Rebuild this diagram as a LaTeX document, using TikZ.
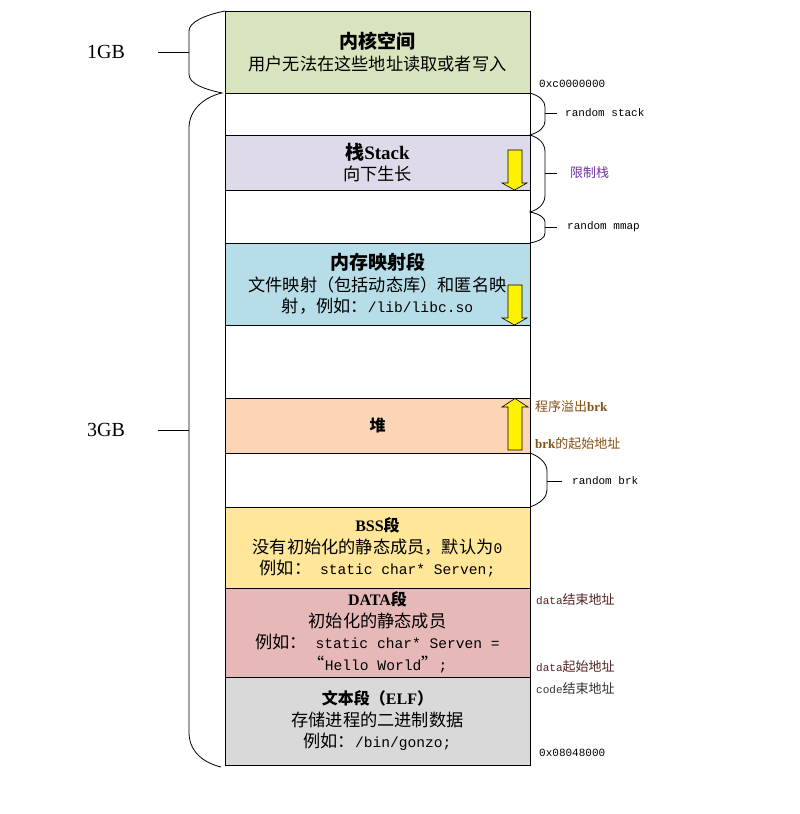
\documentclass[tikz,border=0pt]{standalone}
\usepackage{fontspec}
\setmainfont{Noto Sans CJK SC}
\newfontfamily\mono{Liberation Mono}
\newfontfamily\tms{Liberation Serif}

\definecolor{kerncol}{RGB}{215,228,189}
\definecolor{stackcol}{RGB}{223,218,233}
\definecolor{mmapcol}{RGB}{183,222,232}
\definecolor{heapcol}{RGB}{251,213,181}
\definecolor{bsscol}{RGB}{255,230,153}
\definecolor{datacol}{RGB}{230,185,184}
\definecolor{textcol}{RGB}{217,217,217}
\definecolor{limitcol}{RGB}{112,48,160}
\definecolor{brkcol}{RGB}{132,80,20}
\definecolor{datalbl}{RGB}{85,35,35}
\definecolor{codelbl}{RGB}{50,50,50}

% title and monospace helpers
\newcommand\segtitle[1]{{\bfseries\fontsize{19}{21.5}\selectfont #1}}
\newcommand\segsub[1]{{\bfseries\fontsize{16}{21.5}\selectfont #1}}
\newcommand\mt[1]{{\mono\fontsize{14.6}{21.5}\selectfont #1}}
\newcommand\lt[1]{{\tms\bfseries #1}}
\newcommand\sm[1]{{\mono\fontsize{11}{13}\selectfont #1}}

\begin{document}
\begin{tikzpicture}[x=1pt,y=-1pt,
  seg/.style={draw=black, line width=0.9pt, minimum width=305, inner sep=0pt,
    outer sep=0pt, align=center, anchor=north,
    font=\fontsize{17.2}{21.5}\selectfont},
  brace/.style={draw=black, line width=0.8pt},
  growarrow/.style={draw=black, line width=0.6pt, fill=yellow},
  side/.style={anchor=west, inner sep=0pt},
  gb/.style={inner sep=0pt, font=\tms\fontsize{20}{24}\selectfont},
  sidecjk/.style={side, font=\fontsize{13}{15}\selectfont}
]
\useasboundingbox (0,0) rectangle (800,814);

% memory segments, stacked from the top down
\node[seg, fill=kerncol, minimum height=82] (kern) at (377.5,11)
  {\segtitle{内核空间}\\用户无法在这些地址读取或者写入};
\node[seg, minimum height=42] (gapstack) at (kern.south) {};
\node[seg, fill=stackcol, minimum height=55] (stack) at (gapstack.south)
  {\segtitle{栈\lt{Stack}}\\向下生长};
\node[seg, minimum height=53] (gapmmap) at (stack.south) {};
\node[seg, fill=mmapcol, minimum height=82] (mmap) at (gapmmap.south)
  {\segtitle{内存映射段}\\文件映射（包括动态库）和匿名映\\射，例如：\mt{/lib/libc.so}};
\node[seg, minimum height=73] (free) at (mmap.south) {};
\node[seg, fill=heapcol, minimum height=55] (heap) at (free.south)
  {\segsub{堆}};
\node[seg, minimum height=54] (gapbrk) at (heap.south) {};
\node[seg, fill=bsscol, minimum height=81] (bss) at (gapbrk.south)
  {\segsub{\lt{BSS}段}\\没有初始化的静态成员，默认为\mt{0}\\例如：\mt{ static char* Serven;}};
\node[seg, fill=datacol, minimum height=89] (data) at (bss.south)
  {\segsub{\lt{DATA}段}\\初始化的静态成员\\例如：\mt{ static char* Serven =}\\“\mt{Hello World}”\mt{;}};
\node[seg, fill=textcol, minimum height=88] (text) at (data.south)
  {\segsub{文本段（\lt{ELF}）}\\存储进程的二进制数据\\例如：\mt{/bin/gonzo;}};

% growth arrows
\draw[growarrow] (508,150) -- (522,150) -- (522,183) -- (527,183) -- (514.5,190)
  -- (502,183) -- (508,183) -- cycle;
\draw[growarrow] (508,285) -- (522,285) -- (522,318) -- (527,318) -- (514.5,325)
  -- (502,318) -- (508,318) -- cycle;
\draw[growarrow] (508,450) -- (522,450) -- (522,407) -- (528,407) -- (515,398.5)
  -- (502,407) -- (508,407) -- cycle;

% left braces: 1GB kernel, 3GB user
\draw[brace] (225,11) .. controls (205,15) and (189,22) .. (189,31) -- (189,74)
  .. controls (189,84) and (204,89) .. (222,93)
  .. controls (204,97) and (189,110) .. (189,128) -- (189,732)
  .. controls (189,750) and (201,762) .. (221,767);
\coordinate (gbtop) at (189,52);
\coordinate (gbbot) at (189,430);
\node[gb] (onegb) at (106,52) {1GB};
\node[gb] (threegb) at (106,430) {3GB};
\draw[brace] (158,52) -- (gbtop);
\draw[brace] (158,430) -- (gbbot);

% right braces
\draw[brace] (530,93) .. controls (540,96) and (545,101) .. (545,107) -- (545,121)
  .. controls (545,127) and (540,132) .. (530,135)
  .. controls (540,138) and (545,144) .. (545,152) -- (545,195)
  .. controls (545,203) and (540,209) .. (530,212)
  .. controls (540,214) and (545,218) .. (545,222) -- (545,233)
  .. controls (545,238) and (540,241) .. (530,243);
\draw[brace] (545,113) -- (557,113);
\draw[brace] (545,173) -- (557,173);
\draw[brace] (545,227) -- (557,227);
\draw[brace] (530,453) .. controls (541,457) and (547,464) .. (547,471) -- (547,490)
  .. controls (547,497) and (541,503) .. (530,507);
\draw[brace] (547,481) -- (562,481);

% side labels
\node[side] (addrtop) at (539,84) {\sm{0xc0000000}};
\node[side] (rstack) at (565,113) {\sm{random stack}};
\node[sidecjk, text=limitcol] (limit) at (570,173) {限制栈};
\node[side] (rmmap) at (567,227) {\sm{random mmap}};
\node[sidecjk, text=brkcol] (brkover) at (535,407) {程序溢出\lt{brk}};
\node[sidecjk, text=brkcol] (brkstart) at (535,444) {\lt{brk}的起始地址};
\node[side] (rbrk) at (572,481) {\sm{random brk}};
\node[sidecjk, text=datalbl] (dataend) at (536,600) {\sm{data}结束地址};
\node[sidecjk, text=datalbl] (databeg) at (536,667) {\sm{data}起始地址};
\node[sidecjk, text=codelbl] (codeend) at (536,689) {\sm{code}结束地址};
\node[side] (addrbot) at (539,753) {\sm{0x08048000}};
\end{tikzpicture}
\end{document}
